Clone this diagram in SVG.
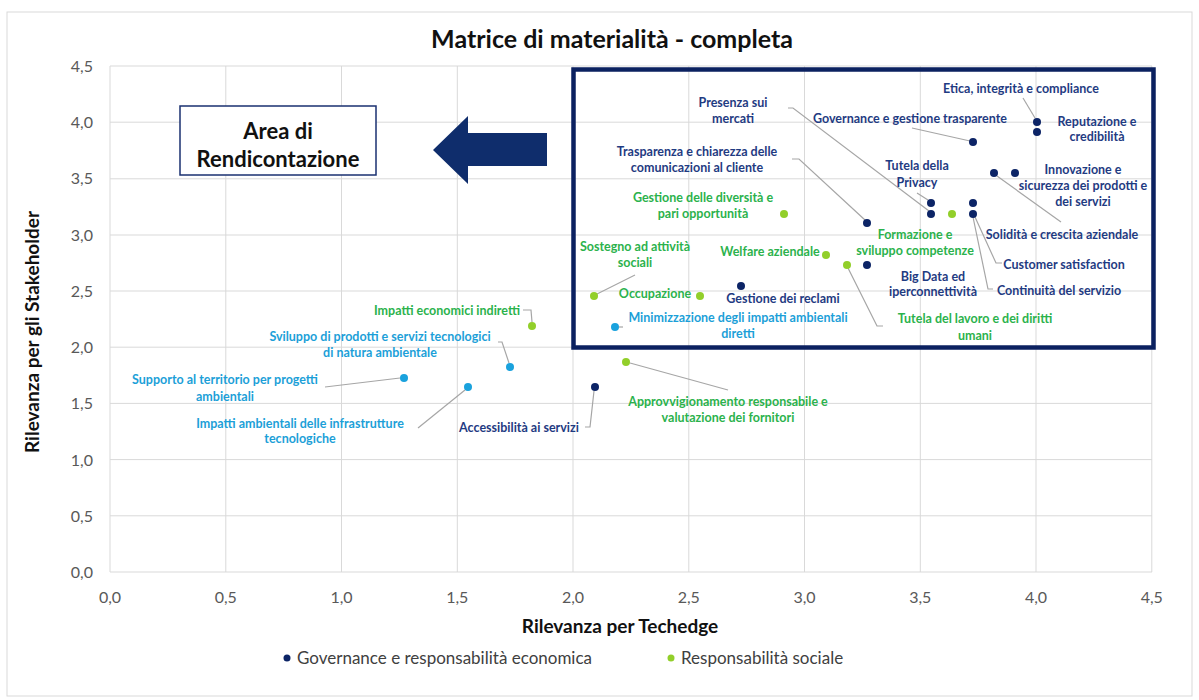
<svg xmlns="http://www.w3.org/2000/svg" width="1199" height="700" viewBox="0 0 1199 700">
<style>
text{font-family:Lato,"Liberation Sans",sans-serif}
.tick{font-size:16px;fill:#595959}
.ty{text-anchor:end}
.tx{text-anchor:middle}
.grid{stroke:#d9d9d9;stroke-width:1;fill:none}
.lab{font-size:12.5px;font-weight:700;text-anchor:middle}
.gv{fill:#1f3b82}
.gs{fill:#2bb24c}
.gb{fill:#1c9fd8}
.pv{fill:#0c2466}
.ps{fill:#92cf2a}
.pb{fill:#1aa2dd}
.lead{stroke:#a6a6a6;stroke-width:1.2;fill:none}
.axt{font-size:19px;font-weight:700;fill:#111;text-anchor:middle}
.leg{font-size:17px;fill:#404040}
</style>
<rect x="0" y="0" width="1199" height="700" fill="#fff"/>
<rect x="7" y="12" width="1185" height="684" fill="#fff" stroke="#d9d9d9" stroke-width="1"/>
<g id="grid">
<path class="grid" d="M110 66H1152M110 122.2H1152M110 178.8H1152M110 235H1152M110 291H1152M110 347.2H1152M110 403.4H1152M110 459.6H1152M110 515.8H1152M110 572H1152"/>
<path class="grid" d="M110 66V572M225.8 66V572M341.5 66V572M457.3 66V572M573 66V572M688.8 66V572M804.5 66V572M920.3 66V572M1036 66V572M1151.8 66V572"/>
</g>
<g id="ticks">
<text class="tick ty" x="93" y="72">4,5</text>
<text class="tick ty" x="93" y="128">4,0</text>
<text class="tick ty" x="93" y="184">3,5</text>
<text class="tick ty" x="93" y="241">3,0</text>
<text class="tick ty" x="93" y="297">2,5</text>
<text class="tick ty" x="93" y="353">2,0</text>
<text class="tick ty" x="93" y="409">1,5</text>
<text class="tick ty" x="93" y="466">1,0</text>
<text class="tick ty" x="93" y="522">0,5</text>
<text class="tick ty" x="93" y="578">0,0</text>
<text class="tick tx" x="110" y="603">0,0</text>
<text class="tick tx" x="225.8" y="603">0,5</text>
<text class="tick tx" x="341.5" y="603">1,0</text>
<text class="tick tx" x="457.3" y="603">1,5</text>
<text class="tick tx" x="573" y="603">2,0</text>
<text class="tick tx" x="688.8" y="603">2,5</text>
<text class="tick tx" x="804.5" y="603">3,0</text>
<text class="tick tx" x="920.3" y="603">3,5</text>
<text class="tick tx" x="1036" y="603">4,0</text>
<text class="tick tx" x="1151.8" y="603">4,5</text>
</g>
<text x="612" y="48" style="font-size:25px;font-weight:700;fill:#111;text-anchor:middle">Matrice di materialità - completa</text>
<text class="axt" x="620" y="633">Rilevanza per Techedge</text>
<text class="axt" transform="translate(39 332) rotate(-90)">Rilevanza per gli Stakeholder</text>
<g id="legend">
<circle cx="287" cy="658" r="3.5" class="pv"/>
<text class="leg" x="297" y="664">Governance e responsabilità economica</text>
<circle cx="671" cy="658" r="3.5" class="ps"/>
<text class="leg" x="681" y="664">Responsabilità sociale</text>
</g>
<g id="area-box">
<rect x="180" y="106" width="196" height="69" fill="#fff" stroke="#1a3070" stroke-width="1.5"/>
<text x="278" y="139" style="font-size:22px;font-weight:700;fill:#111;text-anchor:middle">Area di</text>
<text x="278" y="167" style="font-size:22px;font-weight:700;fill:#111;text-anchor:middle">Rendicontazione</text>
</g>
<g id="big-arrow">
<polygon points="433,150 468,116 468,133 547,133 547,166 468,166 468,184" fill="#0f2d6c"/>
</g>
<g id="materiality-box">
<rect x="573.5" y="69.5" width="580" height="278" fill="none" stroke="#0b2160" stroke-width="4.5"/>
</g>
<g id="connectors">
<path class="lead" d="M1023 98L1035 118"/>
<path class="lead" d="M912 128L970 141"/>
<path class="lead" d="M788 108H793L929 211"/>
<path class="lead" d="M792 159H799L865 220"/>
<path class="lead" d="M917 193L928 200"/>
<path class="lead" d="M997 176L1061 222"/>
<path class="lead" d="M975 217L996 263H1002"/>
<path class="lead" d="M973 217L988 289H993"/>
<path class="lead" d="M597 294L635 275"/>
<path class="lead" d="M619 327H623"/>
<path class="lead" d="M848 268L877 326H883"/>
<path class="lead" d="M523 310H531L532 322"/>
<path class="lead" d="M498 342H502L509 363"/>
<path class="lead" d="M325 387L400 378"/>
<path class="lead" d="M418 428L465 390"/>
<path class="lead" d="M594 391L590 427H585"/>
<path class="lead" d="M630 363L728 390"/>
</g>
<g id="n-etica"><circle cx="1037" cy="122" r="4" class="pv"/><text class="lab gv" x="1021" y="93">Etica, integrità e compliance</text></g>
<g id="n-reputazione"><circle cx="1037" cy="132" r="4" class="pv"/><text class="lab gv" x="1097" y="126">Reputazione e</text><text class="lab gv" x="1097" y="141">credibilità</text></g>
<g id="n-governance"><circle cx="973" cy="142" r="4" class="pv"/><text class="lab gv" x="910" y="123">Governance e gestione trasparente</text></g>
<g id="n-presenza"><circle cx="931" cy="214" r="4" class="pv"/><text class="lab gv" x="733" y="107">Presenza sui</text><text class="lab gv" x="733" y="123">mercati</text></g>
<g id="n-trasparenza"><circle cx="867" cy="223" r="4" class="pv"/><text class="lab gv" x="697" y="156">Trasparenza e chiarezza delle</text><text class="lab gv" x="697" y="172">comunicazioni al cliente</text></g>
<g id="n-privacy"><circle cx="931" cy="203" r="4" class="pv"/><text class="lab gv" x="917" y="170">Tutela della</text><text class="lab gv" x="917" y="187">Privacy</text></g>
<g id="n-innovazione"><circle cx="1015" cy="173" r="4" class="pv"/><text class="lab gv" x="1083" y="174">Innovazione e</text><text class="lab gv" x="1083" y="190">sicurezza dei prodotti e</text><text class="lab gv" x="1083" y="206">dei servizi</text></g>
<g id="n-solidita"><circle cx="994" cy="173" r="4" class="pv"/><text class="lab gv" x="1062" y="239">Solidità e crescita aziendale</text></g>
<g id="n-customer"><circle cx="973" cy="203" r="4" class="pv"/><text class="lab gv" x="1064" y="269">Customer satisfaction</text></g>
<g id="n-continuita"><circle cx="973" cy="214" r="4" class="pv"/><text class="lab gv" x="1059" y="295">Continuità del servizio</text></g>
<g id="n-bigdata"><circle cx="867" cy="265" r="4" class="pv"/><text class="lab gv" x="933" y="281">Big Data ed</text><text class="lab gv" x="933" y="296">iperconnettività</text></g>
<g id="n-reclami"><circle cx="741" cy="286" r="4" class="pv"/><text class="lab gv" x="783" y="303">Gestione dei reclami</text></g>
<g id="n-accessibilita"><circle cx="595" cy="387" r="4" class="pv"/><text class="lab gv" x="519" y="432">Accessibilità ai servizi</text></g>
<g id="n-diversita"><circle cx="784" cy="214" r="4" class="ps"/><text class="lab gs" x="703" y="202">Gestione delle diversità e</text><text class="lab gs" x="703" y="218">pari opportunità</text></g>
<g id="n-formazione"><circle cx="952" cy="214" r="4" class="ps"/><text class="lab gs" x="915" y="239">Formazione e</text><text class="lab gs" x="915" y="255">sviluppo competenze</text></g>
<g id="n-welfare"><circle cx="826" cy="255" r="4" class="ps"/><text class="lab gs" x="770" y="256">Welfare aziendale</text></g>
<g id="n-tutela-lavoro"><circle cx="847" cy="265" r="4" class="ps"/><text class="lab gs" x="975" y="323">Tutela del lavoro e dei diritti</text><text class="lab gs" x="975" y="340">umani</text></g>
<g id="n-sostegno"><circle cx="594" cy="296" r="4" class="ps"/><text class="lab gs" x="635" y="251">Sostegno ad attività</text><text class="lab gs" x="635" y="267">sociali</text></g>
<g id="n-occupazione"><circle cx="700" cy="296" r="4" class="ps"/><text class="lab gs" x="655" y="298">Occupazione</text></g>
<g id="n-impatti-econ"><circle cx="532" cy="326" r="4" class="ps"/><text class="lab gs" x="447" y="315">Impatti economici indiretti</text></g>
<g id="n-approvvigionamento"><circle cx="626" cy="362" r="4" class="ps"/><text class="lab gs" x="728" y="406">Approvvigionamento responsabile e</text><text class="lab gs" x="728" y="422">valutazione dei fornitori</text></g>
<g id="n-minimizzazione"><circle cx="615" cy="327" r="4" class="pb"/><text class="lab gb" x="738" y="322">Minimizzazione degli impatti ambientali</text><text class="lab gb" x="738" y="338">diretti</text></g>
<g id="n-sviluppo"><circle cx="510" cy="367" r="4" class="pb"/><text class="lab gb" x="380" y="341">Sviluppo di prodotti e servizi tecnologici</text><text class="lab gb" x="380" y="357">di natura ambientale</text></g>
<g id="n-supporto"><circle cx="404" cy="378" r="4" class="pb"/><text class="lab gb" x="225" y="384">Supporto al territorio per progetti</text><text class="lab gb" x="225" y="401">ambientali</text></g>
<g id="n-infrastrutture"><circle cx="468" cy="387" r="4" class="pb"/><text class="lab gb" x="300" y="428">Impatti ambientali delle infrastrutture</text><text class="lab gb" x="300" y="443">tecnologiche</text></g>
</svg>
